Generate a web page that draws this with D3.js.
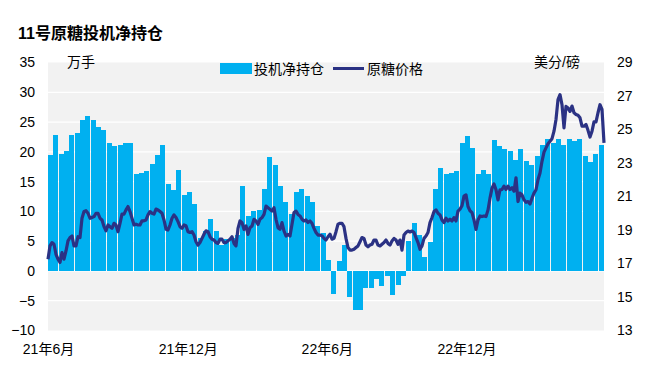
<!DOCTYPE html>
<html>
<head>
<meta charset="utf-8">
<script src="https://cdn.jsdelivr.net/npm/d3@7"></script>
<style>
  body { margin: 0; background: #fff; }
  text { font-family: "Liberation Sans", Arial, "Noto Sans CJK SC", sans-serif; fill: #000; }
</style>
</head>
<body>
<div id="chart"></div>
<script>
// weekly net speculative position, 10k lots
var netLong = [
  19.5, 22.8, 19.7, 20.2, 22.9, 23.1, 25.3, 26.1, 25.4, 24.2,
  23.6, 21.4, 20.9, 21.1, 21.4, 21.4, 16.3, 16.4, 16.8, 18.0,
  19.5, 21.1, 14.6, 13.6, 16.9, 12.8, 13.2, 11.3, 5.6, 6.7,
  8.7, 6.7, 4.4, 5.3, 5.6, 6.1, 14.3, 9.3, 10.0, 10.3,
  13.7, 19.2, 17.8, 14.3, 11.5, 9.6, 13.3, 13.8, 12.6, 11.6,
  7.6, 6.4, 1.8, -3.8, 1.6, 4.4, -4.3, -6.6, -6.6, -2.8,
  -2.9, -1.3, -2.6, -0.8, -4.1, -2.3, -0.9, 5.1, 8.1, 6.1,
  2.4, 4.9, 13.7, 17.3, 16.2, 16.5, 16.7, 21.5, 22.7, 20.7,
  16.3, 17.0, 16.3, 22.0, 20.9, 20.5, 20.2, 18.7, 20.5, 18.5,
  17.8, 19.3, 21.2, 22.2, 21.5, 22.2, 21.2, 22.2, 21.8, 22.2,
  19.3, 18.3, 19.7, 21.2
];

// raw sugar price, US cents/lb, evenly sampled over the period
var price = [
  17.26, 18.05, 18.25, 18.15, 17.55, 17.26, 17.06, 17.65, 17.26, 17.75,
  18.35, 18.55, 18.64, 18.05, 18.05, 18.6, 18.55, 19.7, 20.1, 20.15,
  20.0, 19.7, 19.75, 19.8, 20.0, 20.0, 19.7, 19.6, 19.2, 18.95,
  19.3, 19.2, 19.1, 19.4, 19.3, 18.9, 19.4, 19.95, 19.95, 20.2,
  20.4, 20.1, 19.7, 19.3, 19.35, 19.3, 19.3, 19.55, 19.55, 19.6,
  19.9, 20.1, 20.0, 19.95, 20.25, 20.2, 20.1, 20.0, 19.6, 19.05,
  19.0, 19.3, 19.7, 19.9, 19.75, 19.5, 19.2, 19.1, 19.3, 19.25,
  18.9, 18.85, 18.9, 18.7, 18.3, 18.1, 18.25, 18.5, 18.75, 18.95,
  18.9, 18.6, 18.45, 18.4, 18.25, 18.2, 18.45, 18.45, 18.25, 18.25,
  18.35, 18.45, 18.6, 18.2, 18.05, 19.1, 19.54, 19.44, 19.04, 19.24,
  18.74, 19.14, 19.24, 19.64, 19.54, 19.34, 19.64, 19.74, 19.93, 20.43,
  20.33, 20.23, 20.13, 20.33, 19.64, 19.14, 19.04, 19.44, 18.94, 18.64,
  18.74, 18.64, 19.34, 20.04, 20.13, 19.93, 19.84, 19.64, 19.54, 19.6,
  19.45, 19.54, 19.4, 19.1, 18.85, 18.7, 18.7, 18.65, 18.5, 18.4,
  18.6, 18.75, 18.45, 18.5, 18.9, 19.35, 19.4, 19.4, 19.2, 18.5,
  17.95, 17.8, 17.8, 17.85, 17.95, 18.05, 18.3, 18.55, 18.5, 18.1,
  18.0, 18.1, 18.15, 18.4, 18.4, 18.1, 18.05, 18.15, 18.25, 18.4,
  18.2, 18.1, 18.35, 18.5, 18.4, 18.15, 18.4, 17.8, 18.7, 18.85,
  18.94, 18.88, 18.94, 18.85, 18.55, 18.25, 17.85, 18.05, 18.5, 18.64,
  18.85, 19.44, 19.74, 20.1, 20.2, 20.0, 19.9, 19.6, 19.44, 19.7,
  19.54, 19.64, 19.54, 19.74, 19.54, 20.13, 20.25, 20.45, 21.02, 21.1,
  20.4, 20.15, 20.04, 19.6, 19.04, 19.6, 19.84, 19.8, 19.84, 19.8,
  20.2, 20.9, 21.5, 21.75, 21.4, 20.8, 21.4, 21.42, 21.62, 21.42,
  21.62, 21.42, 21.52, 21.32, 22.12, 20.7, 21.2, 21.1, 20.8, 20.65,
  20.7, 20.55, 20.9, 21.2, 21.4, 22.0, 22.4, 23.1, 23.65, 23.9,
  24.15, 24.3, 24.45, 24.9, 25.6, 26.78, 27.08, 26.48, 25.1, 26.38,
  26.28, 26.08, 26.4, 26.0, 25.9, 25.85, 25.7, 25.2, 25.2, 25.3,
  24.95, 24.55, 24.9, 25.45, 25.45, 26.0, 26.48, 26.2, 24.2
];

var leftTicks = [-10, -5, 0, 5, 10, 15, 20, 25, 30, 35];
var rightTicks = [13, 15, 17, 19, 21, 23, 25, 27, 29];
var xTickDates = ["2021-06-01", "2021-12-01", "2022-06-01", "2022-12-01"];
var xTickLabels = ["21年6月", "21年12月", "22年6月", "22年12月"];

var width = 647, height = 371;
var plotL = 48, plotR = 604, plotT = 62.5, plotB = 330.5;
var barColor = "#00B0F0", lineColor = "#2B3284";

var parse = d3.timeParse("%Y-%m-%d");
var start = parse("2021-06-01");
var end = d3.timeDay.offset(start, netLong.length * 7);

var svg = d3.select("#chart").append("svg")
    .attr("width", width)
    .attr("height", height);

var x = d3.scaleTime().domain([start, end]).range([plotL, plotR]);
var yL = d3.scaleLinear().domain([-10, 35]).range([plotB, plotT]);
var yR = d3.scaleLinear().domain([13, 29]).range([plotB, plotT]);

// plot background + grid
svg.append("rect")
    .attr("x", plotL).attr("y", plotT)
    .attr("width", plotR - plotL).attr("height", plotB - plotT)
    .attr("fill", "#F2F2F2");

svg.append("g").selectAll("line")
  .data(leftTicks.slice(1, -1))
  .enter().append("line")
    .attr("x1", plotL).attr("x2", plotR)
    .attr("y1", d => yL(d)).attr("y2", d => yL(d))
    .attr("stroke", "#fff").attr("stroke-width", 1.3);

// bars, snapped to whole pixels so the odd 1px gap shows up like excel does
var barDates = netLong.map((d, i) => d3.timeDay.offset(start, i * 7));
var zeroY = Math.round(yL(0));
svg.append("g")
    .attr("shape-rendering", "crispEdges")
  .selectAll("rect")
  .data(netLong)
  .enter().append("rect")
    .attr("x", (d, i) => Math.round(x(barDates[i])))
    .attr("width", 5)
    .attr("y", d => Math.min(zeroY, Math.round(yL(d))))
    .attr("height", d => Math.abs(Math.round(yL(d)) - zeroY))
    .attr("fill", barColor);

// price line
var step = (end - start) / (price.length - 1);
var line = d3.line()
    .x((d, i) => x(new Date(+start + i * step)))
    .y(d => yR(d));

svg.append("path")
    .datum(price)
    .attr("d", line)
    .attr("fill", "none")
    .attr("stroke", lineColor)
    .attr("stroke-width", 3.2)
    .attr("stroke-linejoin", "round");

// axes
var axL = svg.append("g")
    .attr("transform", "translate(" + plotL + ",0)")
    .call(d3.axisLeft(yL).tickValues(leftTicks).tickSize(0).tickPadding(13));
var axR = svg.append("g")
    .attr("transform", "translate(" + plotR + ",0)")
    .call(d3.axisRight(yR).tickValues(rightTicks).tickSize(0).tickPadding(13));
var axX = svg.append("g")
    .attr("transform", "translate(0," + plotB + ")")
    .call(d3.axisBottom(x).tickValues(xTickDates.map(parse))
      .tickFormat((d, i) => xTickLabels[i]).tickSize(0).tickPadding(14));

[axL, axR, axX].forEach(function(g) {
  g.select(".domain").remove();
  g.selectAll("text").attr("font-size", 14).attr("fill", "#000")
    .style("font-family", "'Liberation Sans', Arial, 'Noto Sans CJK SC', sans-serif");
});

// titles and units
svg.append("text")
    .attr("x", 18).attr("y", 39)
    .attr("font-size", 16).attr("font-weight", "bold")
    .text("11号原糖投机净持仓");

svg.append("text").attr("x", 67).attr("y", 67).attr("font-size", 14).text("万手");
svg.append("text").attr("x", 534).attr("y", 67).attr("font-size", 14).text("美分/磅");

// legend
var legend = svg.append("g");
legend.append("rect")
    .attr("x", 220).attr("y", 63).attr("width", 32).attr("height", 11)
    .attr("fill", barColor);
legend.append("text").attr("x", 254).attr("y", 74).attr("font-size", 14).text("投机净持仓");
legend.append("line")
    .attr("x1", 333).attr("x2", 364).attr("y1", 68.5).attr("y2", 68.5)
    .attr("stroke", lineColor).attr("stroke-width", 3);
legend.append("text").attr("x", 367).attr("y", 74).attr("font-size", 14).text("原糖价格");
</script>
</body>
</html>
